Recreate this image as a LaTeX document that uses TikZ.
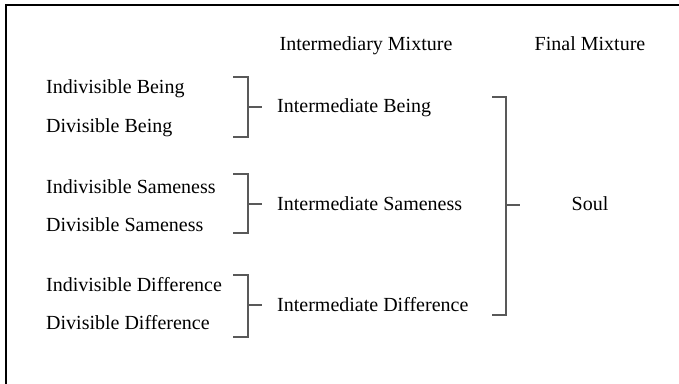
\documentclass[tikz,border=0pt]{standalone}
\usepackage{fontspec}
\setmainfont{Liberation Serif}
\begin{document}
\begin{tikzpicture}[x=1pt,y=-1pt,
  lbl/.style={anchor=base west,inner sep=0pt,font=\fontsize{20}{24}\selectfont,text=black},
  hdr/.style={anchor=base,inner sep=0pt,font=\fontsize{20}{24}\selectfont,text=black},
  brk/.style={draw=black!65,line width=1.3pt},
  frame/.style={draw=black,line width=2.2pt}]
\useasboundingbox (0,0) rectangle (679,383);
\draw[frame] (6,400) -- (6,5) -- (700,5);
% headers
\node[hdr] (h1) at (366,50) {Intermediary Mixture};
\node[hdr] (h2) at (590,50) {Final Mixture};
% left column
\node[lbl] (ib) at (46,93) {Indivisible Being};
\node[lbl] (db) at (46,132) {Divisible Being};
\node[lbl] (is) at (46,193) {Indivisible Sameness};
\node[lbl] (ds) at (46,231) {Divisible Sameness};
\node[lbl] (id) at (46,291) {Indivisible Difference};
\node[lbl] (dd) at (46,329) {Divisible Difference};
% intermediate column
\node[lbl] (mb) at (277,112) {Intermediate Being};
\node[lbl] (ms) at (277,210) {Intermediate Sameness};
\node[lbl] (md) at (277,311) {Intermediate Difference};
% final
\node[hdr] (soul) at (590,210) {Soul};
% bracket coordinates
\coordinate (b1t) at (233,77);  \coordinate (b1b) at (233,137); \coordinate (b1m) at (262,107);
\coordinate (b2t) at (233,174); \coordinate (b2b) at (233,233); \coordinate (b2m) at (262,204);
\coordinate (b3t) at (233,275); \coordinate (b3b) at (233,337); \coordinate (b3m) at (262,305);
\coordinate (b4t) at (492,97);  \coordinate (b4b) at (492,315); \coordinate (b4m) at (520,205);
\draw[brk] (b1t) -- ++(15,0) |- (b1b) (b1t) ++(15,0) |- (b1m);
\draw[brk] (b2t) -- ++(15,0) |- (b2b) (b2t) ++(15,0) |- (b2m);
\draw[brk] (b3t) -- ++(15,0) |- (b3b) (b3t) ++(15,0) |- (b3m);
\draw[brk] (b4t) -- ++(14,0) |- (b4b) (b4t) ++(14,0) |- (b4m);
\end{tikzpicture}
\end{document}
